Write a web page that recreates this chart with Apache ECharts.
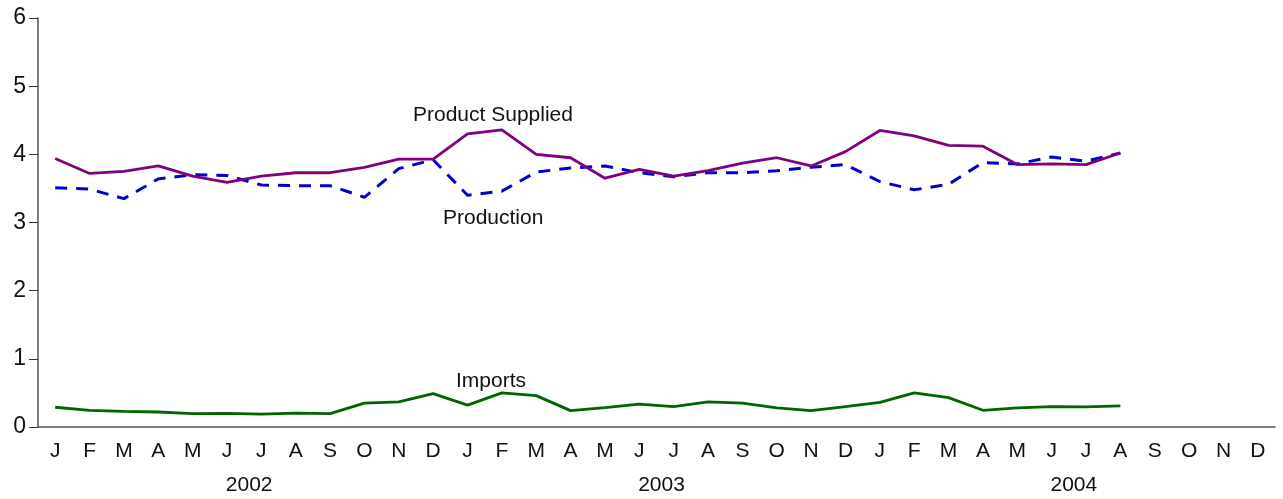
<!DOCTYPE html>
<html>
<head>
<meta charset="utf-8">
<script src="https://cdn.jsdelivr.net/npm/echarts@6/dist/echarts.min.js"></script>
<style>
  html, body { margin: 0; padding: 0; background: #fff; }
  #chart { width: 1283px; height: 499px; }
</style>
</head>
<body>
<div id="chart"></div>
<script>
var months = ['J', 'F', 'M', 'A', 'M', 'J', 'J', 'A', 'S', 'O', 'N', 'D',
  'J', 'F', 'M', 'A', 'M', 'J', 'J', 'A', 'S', 'O', 'N', 'D',
  'J', 'F', 'M', 'A', 'M', 'J', 'J', 'A', 'S', 'O', 'N', 'D'];
var years = ['2002', '2003', '2004'];

// Jan 2002 .. Aug 2004
var productSupplied = [3.94, 3.72, 3.75, 3.83, 3.68, 3.59, 3.68, 3.73, 3.73, 3.81, 3.93, 3.93,
  4.30, 4.36, 4.00, 3.95, 3.65, 3.78, 3.68, 3.76, 3.87, 3.95, 3.83, 4.04,
  4.35, 4.27, 4.13, 4.12, 3.85, 3.86, 3.85, 4.02];
var production = [3.51, 3.49, 3.35, 3.64, 3.70, 3.69, 3.55, 3.54, 3.54, 3.37, 3.79, 3.92,
  3.40, 3.46, 3.74, 3.80, 3.83, 3.73, 3.67, 3.73, 3.73, 3.76, 3.81, 3.85,
  3.60, 3.48, 3.56, 3.88, 3.86, 3.96, 3.90, 4.02];
var imports = [0.29, 0.245, 0.23, 0.22, 0.195, 0.20, 0.19, 0.205, 0.195, 0.35, 0.37, 0.49,
  0.32, 0.50, 0.46, 0.24, 0.285, 0.335, 0.30, 0.37, 0.35, 0.28, 0.24, 0.30,
  0.36, 0.50, 0.43, 0.245, 0.28, 0.30, 0.295, 0.31];

var font = 'Liberation Sans, Arial, sans-serif';
var myChart = echarts.init(document.getElementById('chart'));
var option = {
  animation: false,
  grid: { left: 38, right: 8, top: 18, bottom: 72 },
  xAxis: [{
    type: 'category',
    data: months,
    boundaryGap: true,
    axisLine: { lineStyle: { color: '#555', width: 1.5 } },
    axisTick: { alignWithLabel: true, length: 10, lineStyle: { color: '#333' } },
    axisLabel: { interval: 0, margin: 14, color: '#111', fontSize: 21, fontFamily: font },
    splitLine: { show: false }
  }, {
    type: 'category',
    data: years,
    position: 'bottom',
    boundaryGap: true,
    axisLine: { show: false },
    axisTick: { show: false },
    axisLabel: { margin: 48, padding: [0, 0, 0, 10], color: '#111', fontSize: 21, fontFamily: font },
    splitLine: { show: false }
  }],
  yAxis: {
    type: 'value',
    min: 0,
    max: 6,
    interval: 1,
    axisLine: { show: true, lineStyle: { color: '#555', width: 1.5 } },
    axisTick: { show: true, length: 9, lineStyle: { color: '#333' } },
    axisLabel: { margin: 12, color: '#111', fontSize: 23, fontFamily: font },
    splitLine: { show: false }
  },
  graphic: [
    { type: 'text', left: 413, top: 105, style: { text: 'Product Supplied', fill: '#111', font: '21px ' + font } },
    { type: 'text', left: 443, top: 208, style: { text: 'Production', fill: '#111', font: '21px ' + font } },
    { type: 'text', left: 456, top: 371, style: { text: 'Imports', fill: '#111', font: '21px ' + font } }
  ],
  series: [{
    name: 'Production',
    type: 'line',
    data: production,
    symbol: 'none',
    lineStyle: { color: '#0000cc', width: 3, type: [12, 9] },
    z: 2
  }, {
    name: 'Product Supplied',
    type: 'line',
    data: productSupplied,
    symbol: 'none',
    lineStyle: { color: '#800080', width: 2.8 },
    z: 3
  }, {
    name: 'Imports',
    type: 'line',
    data: imports,
    symbol: 'none',
    lineStyle: { color: '#006400', width: 2.8 },
    z: 3
  }]
};
myChart.setOption(option);
</script>
</body>
</html>
